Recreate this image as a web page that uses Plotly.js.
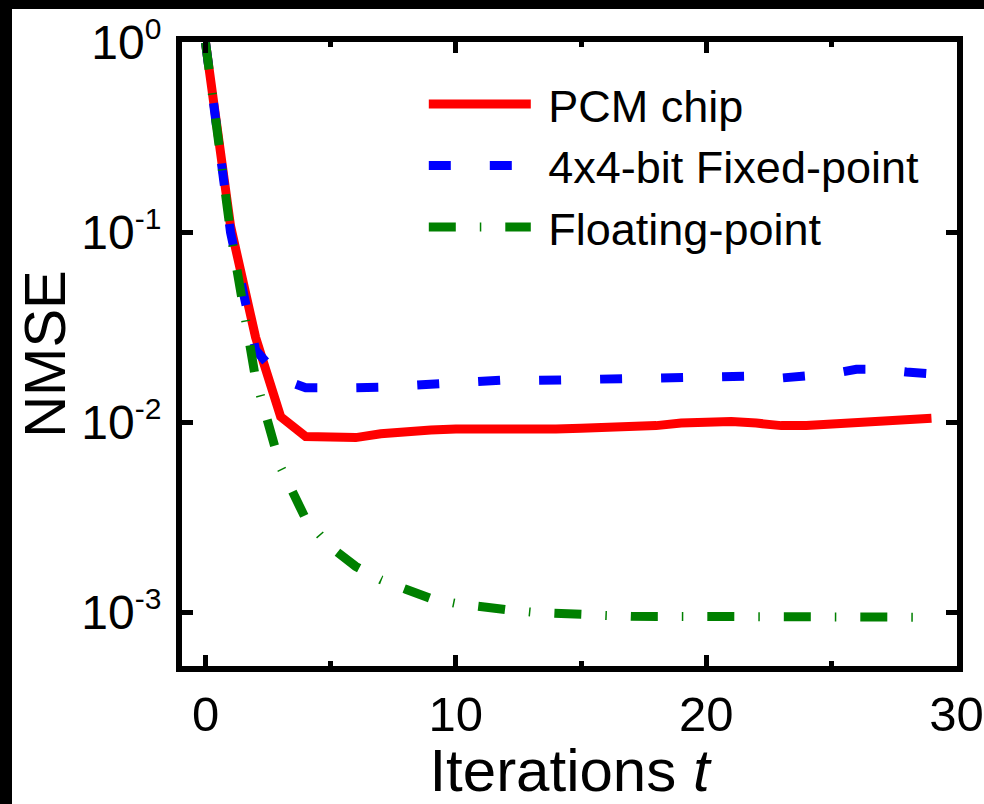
<!DOCTYPE html>
<html>
<head>
<meta charset="utf-8">
<script src="https://cdn.plot.ly/plotly-3.0.1.min.js"></script>
<style>
  html, body { margin: 0; padding: 0; background: #000; width: 984px; height: 804px; overflow: hidden; }
  #chart { position: absolute; left: 12px; top: 9px; width: 972px; height: 795px; background: #fff; }
</style>
</head>
<body>
<div id="chart"></div>
<script>
// ---- data ----
const iterations = [0, 1, 2, 3, 4, 5, 6, 7, 8, 9, 10, 11, 12, 13, 14, 15, 16, 17, 18, 19, 20, 21, 22, 23, 24, 25, 26, 27, 28, 29];
const pcmChip = [1.0, 0.108, 0.028, 0.0107, 0.0084, 0.0083, 0.0083, 0.0087, 0.0090, 0.0091, 0.0092, 0.0092, 0.0090, 0.0091, 0.0092, 0.0093, 0.0094, 0.0094, 0.0096, 0.0099, 0.0100, 0.0101, 0.0099, 0.0096, 0.0096, 0.0098, 0.0100, 0.0101, 0.0103, 0.0105];
const fixedPoint = [1.0, 0.100, 0.024, 0.0170, 0.0152, 0.0150, 0.0152, 0.0153, 0.0156, 0.0160, 0.0163, 0.0167, 0.0167, 0.0166, 0.0167, 0.0170, 0.0172, 0.0173, 0.0173, 0.0174, 0.0175, 0.0177, 0.0175, 0.0171, 0.0175, 0.0180, 0.0190, 0.0190, 0.0184, 0.0180];
const floatingPoint = [1.0, 0.100, 0.017, 0.0058, 0.0031, 0.0022, 0.00174, 0.00148, 0.00132, 0.00118, 0.00111, 0.00106, 0.00103, 0.00100, 0.00098, 0.00097, 0.00096, 0.00095, 0.00095, 0.00094, 0.00094, 0.00094, 0.00094, 0.00094, 0.00094, 0.00094, 0.00094, 0.00094, 0.00094, 0.00094];
const seriesNames = ["PCM chip", "4x4-bit Fixed-point", "Floating-point"];
const xTickVals = [0, 10, 20, 30];
const xTickText = ["0", "10", "20", "30"];
const xMinorTickVals = [5, 15, 25];
const yTickVals = [0.001, 0.01, 0.1, 1];
const yTickExponents = ["-3", "-2", "-1", "0"];

const FONT = "Arial, 'Liberation Sans', sans-serif";
const NBSP = "\u00a0";
const yTickText = yTickExponents.map(e => "10<sup><span style='font-size:30px'>" + e + "</span></sup>");

const traces = [
  { x: iterations, y: pcmChip, name: NBSP + seriesNames[0], type: "scatter", mode: "lines",
    line: { color: "#ff0000", width: 9, dash: "solid" } },
  { x: iterations, y: fixedPoint, name: NBSP + seriesNames[1], type: "scatter", mode: "lines",
    line: { color: "#0000ff", width: 9, dash: "22px,39px" } },
  { x: iterations, y: floatingPoint, name: NBSP + seriesNames[2], type: "scatter", mode: "lines",
    line: { color: "#008000", width: 9, dash: "27px,24px,1.5px,24px" } }
];

const layout = {
  width: 972, height: 795,
  margin: { l: 170, r: 27, t: 33, b: 138, pad: 0 },
  paper_bgcolor: "#ffffff", plot_bgcolor: "#ffffff",
  font: { family: FONT, color: "#000", size: 48 },
  showlegend: true,
  legend: {
    x: 0.312, y: 0.958, xanchor: "left", yanchor: "top",
    bgcolor: "rgba(0,0,0,0)", borderwidth: 0,
    font: { family: FONT, size: 45, color: "#000" },
    itemwidth: 102, tracegroupgap: 0
  },
  xaxis: {
    range: [-0.94, 30.02], showgrid: false, zeroline: false,
    showline: true, linecolor: "#000", linewidth: 6, mirror: "ticks",
    ticks: "inside", ticklen: 11, tickwidth: 5, tickcolor: "#000",
    tickvals: xTickVals, ticktext: xTickText,
    tickfont: { family: FONT, size: 49, color: "#000" },
    minor: { tickvals: xMinorTickVals, ticks: "inside", ticklen: 5, tickwidth: 5, tickcolor: "#000", showgrid: false },
    title: { text: "Iterations <i>t</i>", font: { family: FONT, size: 60, color: "#000" }, standoff: 10 }
  },
  yaxis: {
    type: "log", range: [-3.284, 0.003], showgrid: false, zeroline: false,
    showline: true, linecolor: "#000", linewidth: 6, mirror: "ticks",
    ticks: "inside", ticklen: 11, tickwidth: 5, tickcolor: "#000",
    tickvals: yTickVals, ticktext: yTickText,
    ticklabelstandoff: 5,
    tickfont: { family: FONT, size: 48, color: "#000" },
    title: { text: "NMSE", font: { family: FONT, size: 58, color: "#000" }, standoff: 12 }
  }
};

Plotly.newPlot("chart", traces, layout, { displayModeBar: false, staticPlot: true });
</script>
</body>
</html>
